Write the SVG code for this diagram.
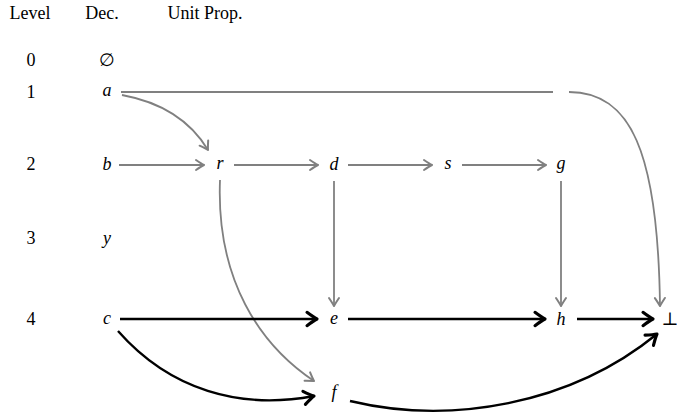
<svg xmlns="http://www.w3.org/2000/svg" width="677" height="419" viewBox="0 0 677 419">
<defs>
<style>
text{font-family:"Liberation Serif","DejaVu Serif",serif;font-size:18px;fill:#000;text-anchor:middle}
.m{font-style:italic}
.g{fill:none;stroke:#808080;stroke-width:1.8}
.k{fill:none;stroke:#000;stroke-width:2.4}
</style>
<marker id="ag" markerUnits="userSpaceOnUse" markerWidth="16" markerHeight="16" refX="0" refY="0" viewBox="-10 -8 12 16" orient="auto" overflow="visible">
<path d="M-8,-5 Q-2.5,-1.3 0,0 Q-2.5,1.3 -8,5" fill="none" stroke="#808080" stroke-width="2" stroke-linecap="round" stroke-linejoin="round"/>
</marker>
<marker id="ak" markerUnits="userSpaceOnUse" markerWidth="20" markerHeight="20" refX="0" refY="0" viewBox="-12 -9 14 18" orient="auto" overflow="visible">
<path d="M-9,-6 Q-3,-1.5 0,0 Q-3,1.5 -9,6" fill="none" stroke="#000" stroke-width="2.8" stroke-linecap="round" stroke-linejoin="round"/>
</marker>
</defs>
<g id="header">
<text x="30" y="19">Level</text>
<text x="102" y="19">Dec.</text>
<text x="205" y="19">Unit Prop.</text>
</g>
<g id="levels">
<text x="31" y="66">0</text>
<text x="31" y="98">1</text>
<text x="31" y="170">2</text>
<text x="31" y="244">3</text>
<text x="31" y="325">4</text>
</g>
<g id="n-empty"><text x="107" y="66">∅</text></g>
<g id="n-a"><text class="m" x="107" y="96">a</text></g>
<g id="n-b"><text class="m" x="107" y="170">b</text></g>
<g id="n-y"><text class="m" x="107" y="244">y</text></g>
<g id="n-c"><text class="m" x="107" y="324">c</text></g>
<g id="n-r"><text class="m" x="220" y="169">r</text></g>
<g id="n-d"><text class="m" x="334" y="170">d</text></g>
<g id="n-s"><text class="m" x="448" y="169">s</text></g>
<g id="n-g"><text class="m" x="561" y="169">g</text></g>
<g id="n-e"><text class="m" x="334" y="324">e</text></g>
<g id="n-h"><text class="m" x="561" y="325">h</text></g>
<g id="n-bot"><text x="670" y="325">⊥</text></g>
<g id="n-f"><text class="m" x="334" y="398">f</text></g>
<g id="connectors">
<path class="g" d="M121,92 H553"/>
<path class="g" d="M569,92 C630,92 658,150 660,306" marker-end="url(#ag)"/>
<path class="g" d="M122,95 C160,102 190,120 208,150" marker-end="url(#ag)"/>
<path class="g" d="M119,165 H204" marker-end="url(#ag)"/>
<path class="g" d="M234,165 H318" marker-end="url(#ag)"/>
<path class="g" d="M348,165 H432" marker-end="url(#ag)"/>
<path class="g" d="M462,165 H546" marker-end="url(#ag)"/>
<path class="g" d="M334,181 V306" marker-end="url(#ag)"/>
<path class="g" d="M561,181 V306" marker-end="url(#ag)"/>
<path class="g" d="M220,180 C216,280 260,345 314,381" marker-end="url(#ag)"/>
<path class="k" d="M120,319 H317" marker-end="url(#ak)"/>
<path class="k" d="M348,319 H545" marker-end="url(#ak)"/>
<path class="k" d="M577,319 H653" marker-end="url(#ak)"/>
<path class="k" d="M118,331 C170,390 240,410 314,396" marker-end="url(#ak)"/>
<path class="k" d="M350,401 C450,425 570,405 657,334" marker-end="url(#ak)"/>
</g>
</svg>
